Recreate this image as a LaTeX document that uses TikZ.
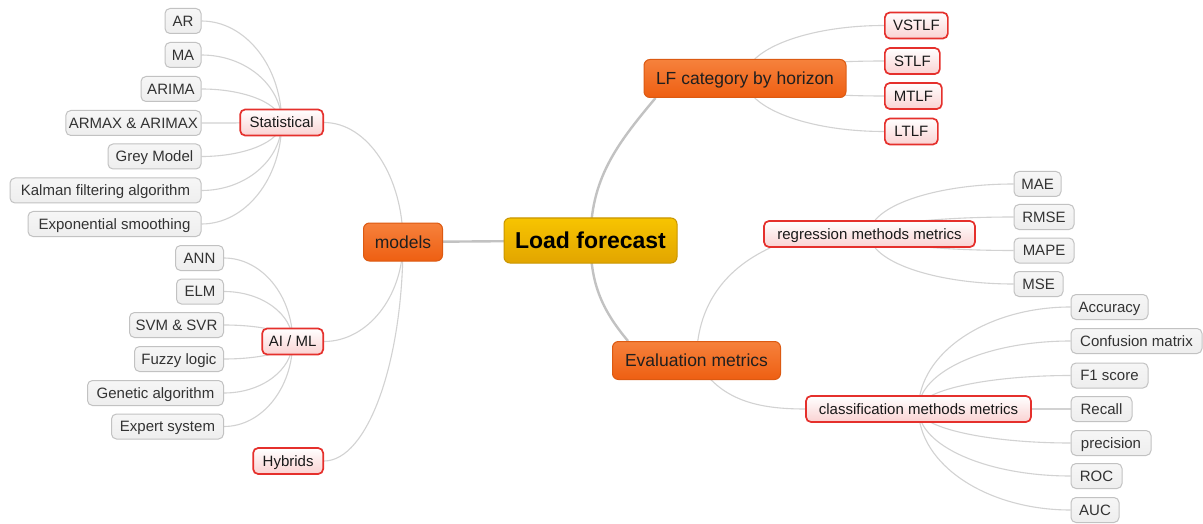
\documentclass[tikz,border=0pt]{standalone}
\usepackage{fontspec}
\setmainfont{Liberation Sans}
\usetikzlibrary{backgrounds,calc}

\definecolor{leaffill}{HTML}{EEEEEE}
\definecolor{leaftop}{HTML}{F6F6F6}
\definecolor{leafborder}{HTML}{C2C2C2}
\definecolor{leaftext}{HTML}{333333}
\definecolor{redborder}{HTML}{E5302C}
\definecolor{pinkfill}{HTML}{FAD2D2}
\definecolor{orangetop}{HTML}{F6813C}
\definecolor{orangebot}{HTML}{EE5F12}
\definecolor{orangeborder}{HTML}{DC5A12}
\definecolor{goldtop}{HTML}{F7C400}
\definecolor{goldbot}{HTML}{E2A500}
\definecolor{goldborder}{HTML}{C99600}
\definecolor{twiggrey}{HTML}{D2D2D2}
\definecolor{trunkgrey}{HTML}{C2C2C2}

\tikzset{
  leaf/.style={draw=leafborder, top color=leaftop, bottom color=leaffill,
    line width=1pt, rounded corners=5pt, minimum height=25pt,
    inner xsep=3pt, inner ysep=0pt, text=leaftext,
    font=\fontsize{15}{17}\selectfont, text height=11pt, text depth=0.5pt},
  subtopic/.style={draw=redborder, top color=white, bottom color=pinkfill,
    line width=1.7pt, rounded corners=5pt, minimum height=26pt,
    inner xsep=3pt, inner ysep=0pt, text=black!90,
    font=\fontsize{15}{17}\selectfont, text height=11pt, text depth=0.5pt},
  topic/.style={draw=orangeborder, top color=orangetop, bottom color=orangebot,
    line width=1pt, rounded corners=6pt, minimum height=38pt,
    inner xsep=3pt, inner ysep=0pt, text=black!88,
    font=\fontsize{17.5}{20}\selectfont, text height=13pt, text depth=1pt},
  central/.style={draw=goldborder, top color=goldtop, bottom color=goldbot,
    line width=1pt, rounded corners=6pt, minimum height=45pt,
    inner xsep=3pt, inner ysep=0pt, text=black,
    font=\fontsize{23}{26}\bfseries\selectfont, text height=17pt, text depth=1.5pt},
  twig/.style={draw=twiggrey, line width=1.1pt},
  trunk/.style={draw=trunkgrey, line width=2.4pt}
}

% branch from a child node to the centre of its parent: a quarter-ellipse
% that leaves the child horizontally and meets the parent vertically
\newcommand{\branch}[2]{%
  \draw[twig] (#1) .. controls ($(#1)!0.55!(#2.center |- #1)$)
    and ($(#2.center)!0.55!(#2.center |- #1)$) .. (#2.center);}

\begin{document}
\begin{tikzpicture}[x=1pt,y=-1pt]
\useasboundingbox (0,0) rectangle (1203,524);

% central topic and main branches
\node[central, minimum width=173pt] (load) at (590.5,240.5) {Load forecast};
\node[topic, minimum width=202pt] (lf) at (745,78.5) {LF category by horizon};
\node[topic, minimum width=79pt] (models) at (403,242) {models};
\node[topic, minimum width=168pt] (eval) at (696.5,360.5) {Evaluation metrics};

% horizon categories
\node[subtopic, minimum width=63pt, anchor=west] (vstlf) at (884,25.5) {VSTLF};
\node[subtopic, minimum width=55pt, anchor=west] (stlf) at (884,61) {STLF};
\node[subtopic, minimum width=57pt, anchor=west] (mtlf) at (884,96) {MTLF};
\node[subtopic, minimum width=53pt, anchor=west] (ltlf) at (884,131.5) {LTLF};

% model families
\node[subtopic, minimum width=83pt, anchor=east] (stat) at (324,122.5) {Statistical};
\node[subtopic, minimum width=61pt, anchor=east] (aiml) at (324,341.5) {AI / ML};
\node[subtopic, minimum width=70pt, anchor=east] (hyb) at (324,461) {Hybrids};

% metric families
\node[subtopic, minimum width=211pt] (reg) at (869.5,234) {regression methods metrics};
\node[subtopic, minimum width=225pt] (cls) at (918.5,409) {classification methods metrics};

% statistical models
\node[leaf, minimum width=36pt, anchor=east] (ar) at (201.5,21) {AR};
\node[leaf, minimum width=36pt, anchor=east] (ma) at (201.5,55) {MA};
\node[leaf, minimum width=60pt, anchor=east] (arima) at (201.5,89) {ARIMA};
\node[leaf, minimum width=134pt, anchor=east] (armax) at (201.5,123) {ARMAX \& ARIMAX};
\node[leaf, minimum width=93pt, anchor=east] (grey) at (201.5,156.5) {Grey Model};
\node[leaf, minimum width=191pt, anchor=east] (kalman) at (201.5,190.5) {Kalman filtering algorithm};
\node[leaf, minimum width=173pt, anchor=east] (expo) at (201.5,224) {Exponential smoothing};

% AI / ML models
\node[leaf, minimum width=48pt, anchor=east] (ann) at (224,258) {ANN};
\node[leaf, minimum width=47pt, anchor=east] (elm) at (224,291.5) {ELM};
\node[leaf, minimum width=94pt, anchor=east] (svm) at (224,325) {SVM \& SVR};
\node[leaf, minimum width=89pt, anchor=east] (fuzzy) at (224,359) {Fuzzy logic};
\node[leaf, minimum width=136pt, anchor=east] (ga) at (224,393) {Genetic algorithm};
\node[leaf, minimum width=112pt, anchor=east] (expert) at (224,426.5) {Expert system};

% regression metrics
\node[leaf, minimum width=47pt, anchor=west] (mae) at (1013.5,184) {MAE};
\node[leaf, minimum width=60pt, anchor=west] (rmse) at (1013.5,217) {RMSE};
\node[leaf, minimum width=60pt, anchor=west] (mape) at (1013.5,250.5) {MAPE};
\node[leaf, minimum width=49pt, anchor=west] (mse) at (1013.5,284) {MSE};

% classification metrics
\node[leaf, minimum width=77pt, anchor=west] (acc) at (1070.5,307) {Accuracy};
\node[leaf, minimum width=131pt, anchor=west] (conf) at (1070.5,341) {Confusion matrix};
\node[leaf, minimum width=77pt, anchor=west] (f1) at (1070.5,375.5) {F1 score};
\node[leaf, minimum width=61pt, anchor=west] (recall) at (1070.5,409) {Recall};
\node[leaf, minimum width=80pt, anchor=west] (prec) at (1070.5,443) {precision};
\node[leaf, minimum width=51pt, anchor=west] (roc) at (1070.5,476) {ROC};
\node[leaf, minimum width=48pt, anchor=west] (auc) at (1070.5,510) {AUC};

\begin{scope}[on background layer]
  \fill[white] (0,0) rectangle (1203,524);

  % main branches
  \draw[trunk] (models.center) -- (load.center);
  \draw[trunk] (load.center) to[out=90,in=230] ([xshift=12pt]lf.south west);
  \draw[trunk] (load.center) to[out=-90,in=130] ([xshift=16pt]eval.north west);

  % models
  \foreach \n in {stat,aiml,hyb} { \branch{\n.east}{models} }

  % horizon categories
  \foreach \n in {vstlf,stlf,mtlf,ltlf} { \branch{\n.west}{lf} }

  % evaluation metrics
  \draw[twig] (eval.center) to[out=90,in=205] ([xshift=7pt]reg.south west);
  \draw[twig] (eval.center) to[out=-60,in=180] (cls.west);

  % statistical
  \foreach \n in {ar,ma,arima,armax,grey,kalman,expo} { \branch{\n.east}{stat} }

  % AI / ML
  \foreach \n in {ann,elm,svm,fuzzy,ga,expert} { \branch{\n.east}{aiml} }

  % regression
  \foreach \n in {mae,rmse,mape,mse} { \branch{\n.west}{reg} }

  % classification
  \foreach \n in {acc,conf,f1,recall,prec,roc,auc} { \branch{\n.west}{cls} }
\end{scope}
\end{tikzpicture}
\end{document}
